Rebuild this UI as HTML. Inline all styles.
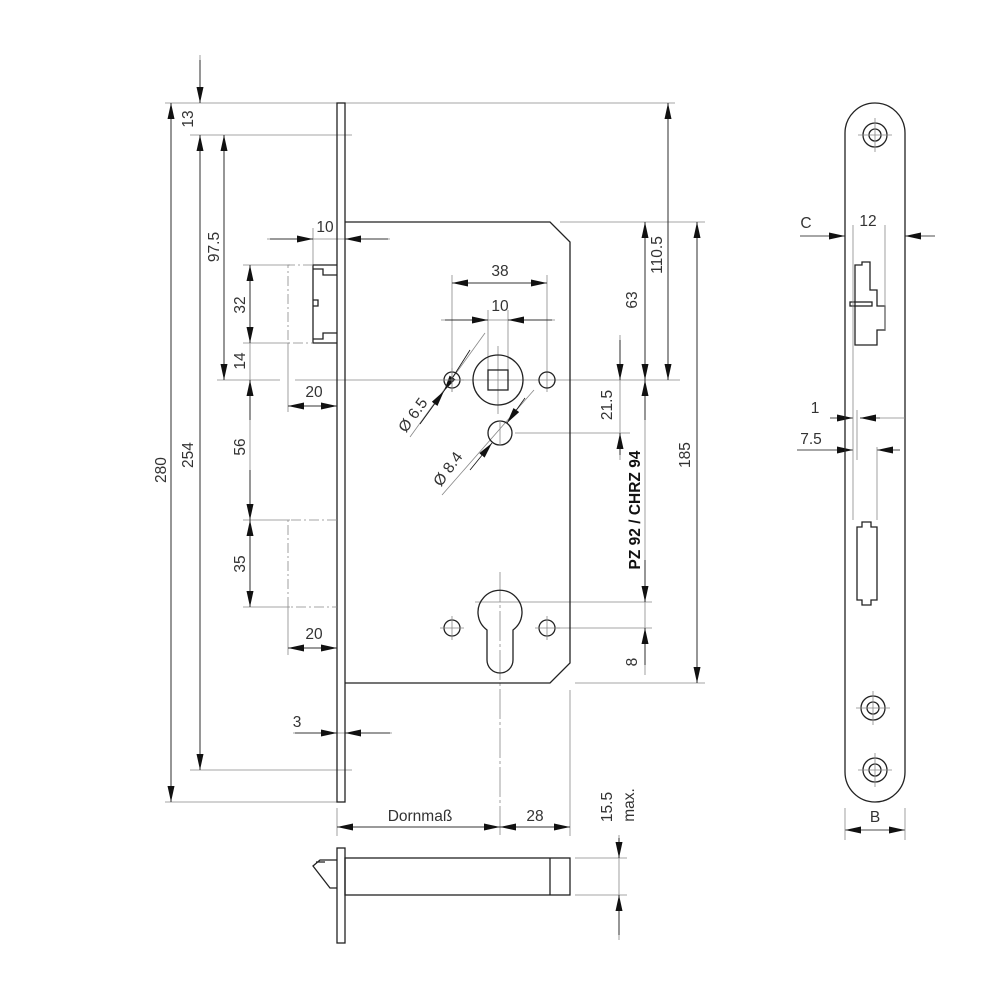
<!DOCTYPE html>
<html><head><meta charset="utf-8"><style>
html,body{margin:0;padding:0;background:#fff}
svg{display:block}
text{font-family:"Liberation Sans","DejaVu Sans",sans-serif;font-size:15.5px;fill:#333}
</style></head><body>
<svg width="1000" height="1000" viewBox="0 0 1000 1000" xmlns="http://www.w3.org/2000/svg">
<defs>
<marker id="a" viewBox="0 0 16 7" refX="16" refY="3.5" markerWidth="16" markerHeight="7" markerUnits="userSpaceOnUse" orient="auto-start-reverse"><path d="M0,0L16,3.5L0,7z" fill="#111"/></marker>
</defs>
<g stroke="#888" stroke-width="0.8" fill="none">
<line x1="165" y1="103" x2="675" y2="103"/>
<line x1="190" y1="135" x2="352" y2="135"/>
<line x1="190" y1="770" x2="352" y2="770"/>
<line x1="165" y1="802" x2="337" y2="802"/>
<line x1="217" y1="380" x2="280" y2="380"/>
<line x1="295" y1="380" x2="680" y2="380"/>
<line x1="243" y1="265" x2="290" y2="265"/>
<line x1="243" y1="343" x2="290" y2="343"/>
<line x1="243" y1="520" x2="290" y2="520"/>
<line x1="243" y1="607" x2="290" y2="607"/>
<line x1="560" y1="222" x2="705" y2="222"/>
<line x1="515" y1="433" x2="630" y2="433"/>
<line x1="475" y1="602" x2="652" y2="602"/>
<line x1="555" y1="628" x2="652" y2="628"/>
<line x1="575" y1="683" x2="705" y2="683"/>
<line x1="313" y1="228" x2="313" y2="265"/>
<line x1="288" y1="343" x2="288" y2="412"/>
<line x1="288" y1="607" x2="288" y2="655"/>
<line x1="452" y1="275" x2="452" y2="392"/>
<line x1="547" y1="275" x2="547" y2="392"/>
<line x1="488" y1="310" x2="488" y2="370"/>
<line x1="508" y1="310" x2="508" y2="370"/>
<line x1="498" y1="346" x2="498" y2="414"/>
<line x1="500" y1="572" x2="500" y2="835" stroke-dasharray="30,3,3,3"/>
<line x1="337" y1="808" x2="337" y2="836"/>
<line x1="570" y1="690" x2="570" y2="836"/>
<line x1="575" y1="858" x2="627" y2="858"/>
<line x1="575" y1="895" x2="627" y2="895"/>
<line x1="485" y1="333" x2="410" y2="437"/>
<line x1="534" y1="390" x2="442" y2="495"/>
<line x1="171" y1="103" x2="171" y2="802"/>
<line x1="200" y1="135" x2="200" y2="770"/>
<line x1="200" y1="55" x2="200" y2="103"/>
<line x1="224" y1="135" x2="224" y2="380"/>
<line x1="250" y1="265" x2="250" y2="607"/>
<line x1="645" y1="222" x2="645" y2="380"/>
<line x1="668" y1="103" x2="668" y2="380"/>
<line x1="697" y1="222" x2="697" y2="683"/>
<line x1="620" y1="335" x2="620" y2="460"/>
<line x1="645" y1="380" x2="645" y2="675"/>
<line x1="619" y1="835" x2="619" y2="940"/>
<line x1="337" y1="827" x2="570" y2="827"/>
<line x1="455" y1="283" x2="545" y2="283"/>
<line x1="441" y1="320" x2="555" y2="320"/>
<line x1="267" y1="239" x2="390" y2="239"/>
<line x1="288" y1="406" x2="337" y2="406"/>
<line x1="288" y1="648" x2="337" y2="648"/>
<line x1="293" y1="733" x2="392" y2="733"/>
</g>
<g stroke="#111" stroke-width="0.8" fill="none" marker-end="url(#a)">
<line x1="171" y1="450" x2="171" y2="103"/><line x1="171" y1="450" x2="171" y2="802"/>
<line x1="200" y1="450" x2="200" y2="135"/><line x1="200" y1="450" x2="200" y2="770"/>
<line x1="200" y1="60" x2="200" y2="103"/>
<line x1="224" y1="250" x2="224" y2="135"/><line x1="224" y1="250" x2="224" y2="380"/>
<line x1="250" y1="300" x2="250" y2="265"/><line x1="250" y1="300" x2="250" y2="343"/>
<line x1="250" y1="420" x2="250" y2="380"/><line x1="250" y1="470" x2="250" y2="520"/>
<line x1="250" y1="560" x2="250" y2="520"/><line x1="250" y1="560" x2="250" y2="607"/>
<line x1="645" y1="300" x2="645" y2="222"/><line x1="645" y1="300" x2="645" y2="380"/>
<line x1="668" y1="250" x2="668" y2="103"/><line x1="668" y1="250" x2="668" y2="380"/>
<line x1="697" y1="450" x2="697" y2="222"/><line x1="697" y1="450" x2="697" y2="683"/>
<line x1="620" y1="340" x2="620" y2="380"/><line x1="620" y1="455" x2="620" y2="433"/>
<line x1="645" y1="420" x2="645" y2="380"/><line x1="645" y1="560" x2="645" y2="602"/>
<line x1="645" y1="665" x2="645" y2="628"/>
<line x1="619" y1="838" x2="619" y2="858"/><line x1="619" y1="935" x2="619" y2="895"/>
<line x1="420" y1="827" x2="337" y2="827"/><line x1="420" y1="827" x2="500" y2="827"/>
<line x1="535" y1="827" x2="500" y2="827"/><line x1="535" y1="827" x2="570" y2="827"/>
<line x1="500" y1="283" x2="452" y2="283"/><line x1="500" y1="283" x2="547" y2="283"/>
<line x1="445" y1="320" x2="488" y2="320"/><line x1="552" y1="320" x2="508" y2="320"/>
<line x1="270" y1="239" x2="313" y2="239"/><line x1="388" y1="239" x2="345" y2="239"/>
<line x1="312" y1="406" x2="288" y2="406"/><line x1="312" y1="406" x2="337" y2="406"/>
<line x1="312" y1="648" x2="288" y2="648"/><line x1="312" y1="648" x2="337" y2="648"/>
<line x1="295" y1="733" x2="337" y2="733"/><line x1="390" y1="733" x2="345" y2="733"/>
<line x1="470" y1="350" x2="444" y2="391"/><line x1="420" y1="424" x2="444" y2="391"/>
<line x1="525" y1="398" x2="507" y2="423"/><line x1="470" y1="470" x2="492" y2="443"/>
<line x1="800" y1="236" x2="845" y2="236"/><line x1="935" y1="236" x2="905" y2="236"/>
<line x1="830" y1="418" x2="853" y2="418"/><line x1="880" y1="418" x2="860" y2="418"/>
<line x1="797" y1="450" x2="853" y2="450"/><line x1="900" y1="450" x2="877" y2="450"/>
<line x1="875" y1="830" x2="845" y2="830"/><line x1="875" y1="830" x2="905" y2="830"/>
</g>
<g stroke="#222" stroke-width="1.3" fill="none">
<rect x="337" y="103" width="8" height="699"/>
<path d="M345,222H550L570,242V663L550,683H345"/>
<path d="M337,265H313V343H337M313,269H323V275H337M313,339H323V333H337M313,300H318V306H313"/>
<circle cx="498" cy="380" r="25"/>
<rect x="488" y="370" width="20" height="20"/>
<circle cx="452" cy="380" r="8"/><circle cx="547" cy="380" r="8"/>
<circle cx="500" cy="433" r="12"/>
<path d="M487,630A22,22 0 1 1 513,630V660A13,13 0 0 1 487,660Z"/>
<circle cx="452" cy="628" r="8"/><circle cx="547" cy="628" r="8"/>
<rect x="337" y="848" width="8" height="95"/>
<rect x="345" y="858" width="225" height="37"/>
<line x1="550" y1="858" x2="550" y2="895"/>
<path d="M337,860H320L313,866L330,888H337M316,862L325,862"/>
</g>
<g stroke="#888" stroke-width="0.8" fill="none" stroke-dasharray="10,3,2,3">
<path d="M313,265H288V343H313"/>
<path d="M337,520H288V607H337"/>
</g>
<g stroke="#888" stroke-width="0.8">
<line x1="440" y1="380" x2="464" y2="380"/><line x1="452" y1="368" x2="452" y2="392"/>
<line x1="440" y1="628" x2="464" y2="628"/><line x1="452" y1="616" x2="452" y2="640"/>
<line x1="535" y1="628" x2="560" y2="628"/><line x1="547" y1="616" x2="547" y2="640"/>
<line x1="500" y1="420" x2="500" y2="446"/>
</g>
<g stroke="#222" stroke-width="1.3" fill="none">
<path d="M845,133A30,30 0 0 1 905,133V772A30,30 0 0 1 845,772Z"/>
<path d="M855,345V265H862V262H870V290H877V306H885V330H877V345H862V345Z"/>
<rect x="850" y="302" width="22" height="4"/>
<path d="M857,527H862V522H871V527H877V600H871V605H862V600H857Z"/>
<circle cx="875" cy="135" r="12"/><circle cx="875" cy="135" r="6"/>
<circle cx="873" cy="708" r="12"/><circle cx="873" cy="708" r="6"/>
<circle cx="875" cy="770" r="12"/><circle cx="875" cy="770" r="6"/>
</g>
<g stroke="#888" stroke-width="0.8" fill="none">
<line x1="858" y1="135" x2="892" y2="135"/><line x1="875" y1="118" x2="875" y2="152"/>
<line x1="856" y1="708" x2="890" y2="708"/><line x1="873" y1="691" x2="873" y2="725"/>
<line x1="858" y1="770" x2="892" y2="770"/><line x1="875" y1="753" x2="875" y2="787"/>
<line x1="853" y1="225" x2="853" y2="520"/><line x1="885" y1="225" x2="885" y2="330"/>
<line x1="857" y1="410" x2="857" y2="460"/><line x1="877" y1="447" x2="877" y2="520"/>
<line x1="880" y1="418" x2="905" y2="418"/>
<line x1="845" y1="808" x2="845" y2="840"/><line x1="905" y1="808" x2="905" y2="840"/>
</g>
<text transform="translate(166,470) rotate(-90)" text-anchor="middle">280</text>
<text transform="translate(193,455) rotate(-90)" text-anchor="middle">254</text>
<text transform="translate(193,119) rotate(-90)" text-anchor="middle">13</text>
<text transform="translate(219,247) rotate(-90)" text-anchor="middle">97.5</text>
<text transform="translate(245,305) rotate(-90)" text-anchor="middle">32</text>
<text transform="translate(245,361) rotate(-90)" text-anchor="middle">14</text>
<text transform="translate(245,447) rotate(-90)" text-anchor="middle">56</text>
<text transform="translate(245,564) rotate(-90)" text-anchor="middle">35</text>
<text transform="translate(637,300) rotate(-90)" text-anchor="middle">63</text>
<text transform="translate(662,255) rotate(-90)" text-anchor="middle">110.5</text>
<text transform="translate(690,455) rotate(-90)" text-anchor="middle">185</text>
<text transform="translate(612,405) rotate(-90)" text-anchor="middle">21.5</text>
<text transform="translate(637,662) rotate(-90)" text-anchor="middle">8</text>
<text transform="translate(640,510) rotate(-90)" text-anchor="middle" style="font-weight:bold;fill:#111;font-size:15.5px">PZ 92 / CHRZ 94</text>
<text transform="translate(612,807) rotate(-90)" text-anchor="middle">15.5</text>
<text transform="translate(634,805) rotate(-90)" text-anchor="middle">max.</text>
<text x="325" y="232" text-anchor="middle">10</text>
<text x="500" y="276" text-anchor="middle">38</text>
<text x="500" y="311" text-anchor="middle">10</text>
<text x="314" y="397" text-anchor="middle">20</text>
<text x="314" y="639" text-anchor="middle">20</text>
<text x="297" y="727" text-anchor="middle">3</text>
<text x="420" y="821" text-anchor="middle">Dornmaß</text>
<text x="535" y="821" text-anchor="middle">28</text>
<text transform="translate(417,418) rotate(-54)" text-anchor="middle">Ø 6.5</text>
<text transform="translate(452,472) rotate(-54)" text-anchor="middle">Ø 8.4</text>
<text x="806" y="228" text-anchor="middle">C</text>
<text x="868" y="226" text-anchor="middle">12</text>
<text x="815" y="413" text-anchor="middle">1</text>
<text x="811" y="444" text-anchor="middle">7.5</text>
<text x="875" y="822" text-anchor="middle">B</text>
</svg>
</body></html>
